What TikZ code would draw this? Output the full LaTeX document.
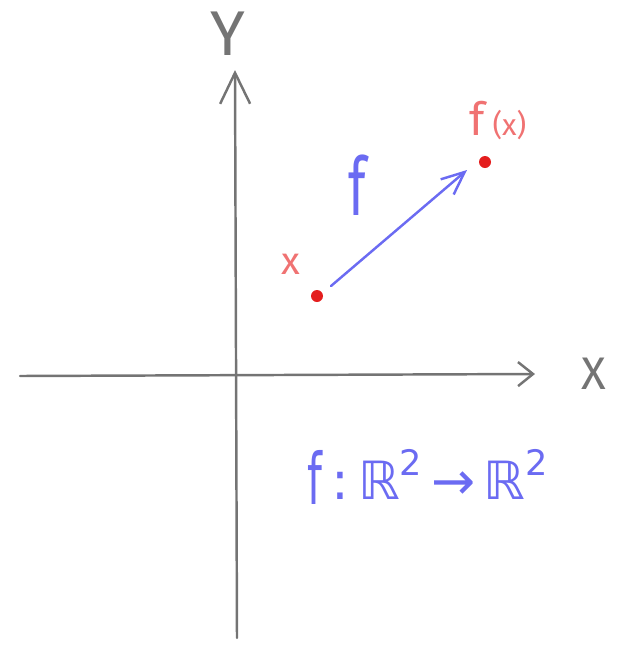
\documentclass[tikz,border=0pt]{standalone}
\usepackage{fontspec}
\setmainfont{Fira Sans}
\newfontfamily\dv{DejaVu Sans}
\usetikzlibrary{arrows.meta}
\definecolor{axisgray}{HTML}{747474}
\definecolor{penred}{HTML}{F07272}
\definecolor{dotred}{HTML}{E41E1E}
\definecolor{penblue}{HTML}{6B6BF2}
\begin{document}
\begin{tikzpicture}[x=0.02cm,y=-0.02cm,
  axis/.style={draw=axisgray, line width=1.4pt, line cap=round, line join=round},
  bluearrow/.style={draw=penblue, line width=1.4pt, line cap=round, line join=round,
    -{Straight Barb[length=0.46cm, width=0.40cm, line width=1.4pt]}},
  dotnode/.style={circle, fill=dotred, inner sep=0pt, minimum size=0.24cm},
  graylbl/.style={text=axisgray, inner sep=0pt},
  redlbl/.style={text=penred, inner sep=0pt},
  bluelbl/.style={text=penblue, inner sep=0pt}]
\useasboundingbox (0,0) rectangle (635,660);
% axes
\coordinate (xs) at (20,376);
\coordinate (xe) at (535,374);
\coordinate (ys) at (237,638);
\coordinate (ye) at (235,70);
\draw[axis, -{Straight Barb[length=0.30cm, width=0.48cm, line width=1.4pt]}] (xs) -- (xe);
\draw[axis, -{Straight Barb[length=0.62cm, width=0.60cm, line width=1.4pt]}] (ys) -- (ye);
\node[graylbl, font=\fontsize{36}{40}\selectfont] (ylab) at (228,34) {Y};
\node[graylbl, font=\fontsize{26}{28}\selectfont] (xlab) at (594,374) {X};
% points
\node[dotnode] (p) at (317,296) {};
\node[dotnode] (q) at (485,162) {};
\node[redlbl, font=\fontsize{22}{24}\selectfont] (plab) at (291,264) {x};
\node[redlbl, font=\fontsize{26}{28}\selectfont] (qlab) at (498,121) {f\,{\fontsize{17}{19}\selectfont (x)}};
% mapping arrow
\coordinate (a1) at (331,286);
\coordinate (a2) at (467,170);
\draw[bluearrow] (a1) -- (a2);
\node[bluelbl, font=\fontsize{46}{48}\selectfont] (flab) at (357,185) {\scalebox{0.65}[1]{f}};
% formula
\node[bluelbl, font=\dv\fontsize{30}{32}\selectfont] (formula) at (428,477)
  {\raisebox{-0.1em}{\scalebox{0.8}[1.35]{f}}\,:\,ℝ\raisebox{0.45em}{\fontsize{20}{22}\selectfont 2}\,→\,ℝ\raisebox{0.45em}{\fontsize{20}{22}\selectfont 2}};
\end{tikzpicture}
\end{document}
